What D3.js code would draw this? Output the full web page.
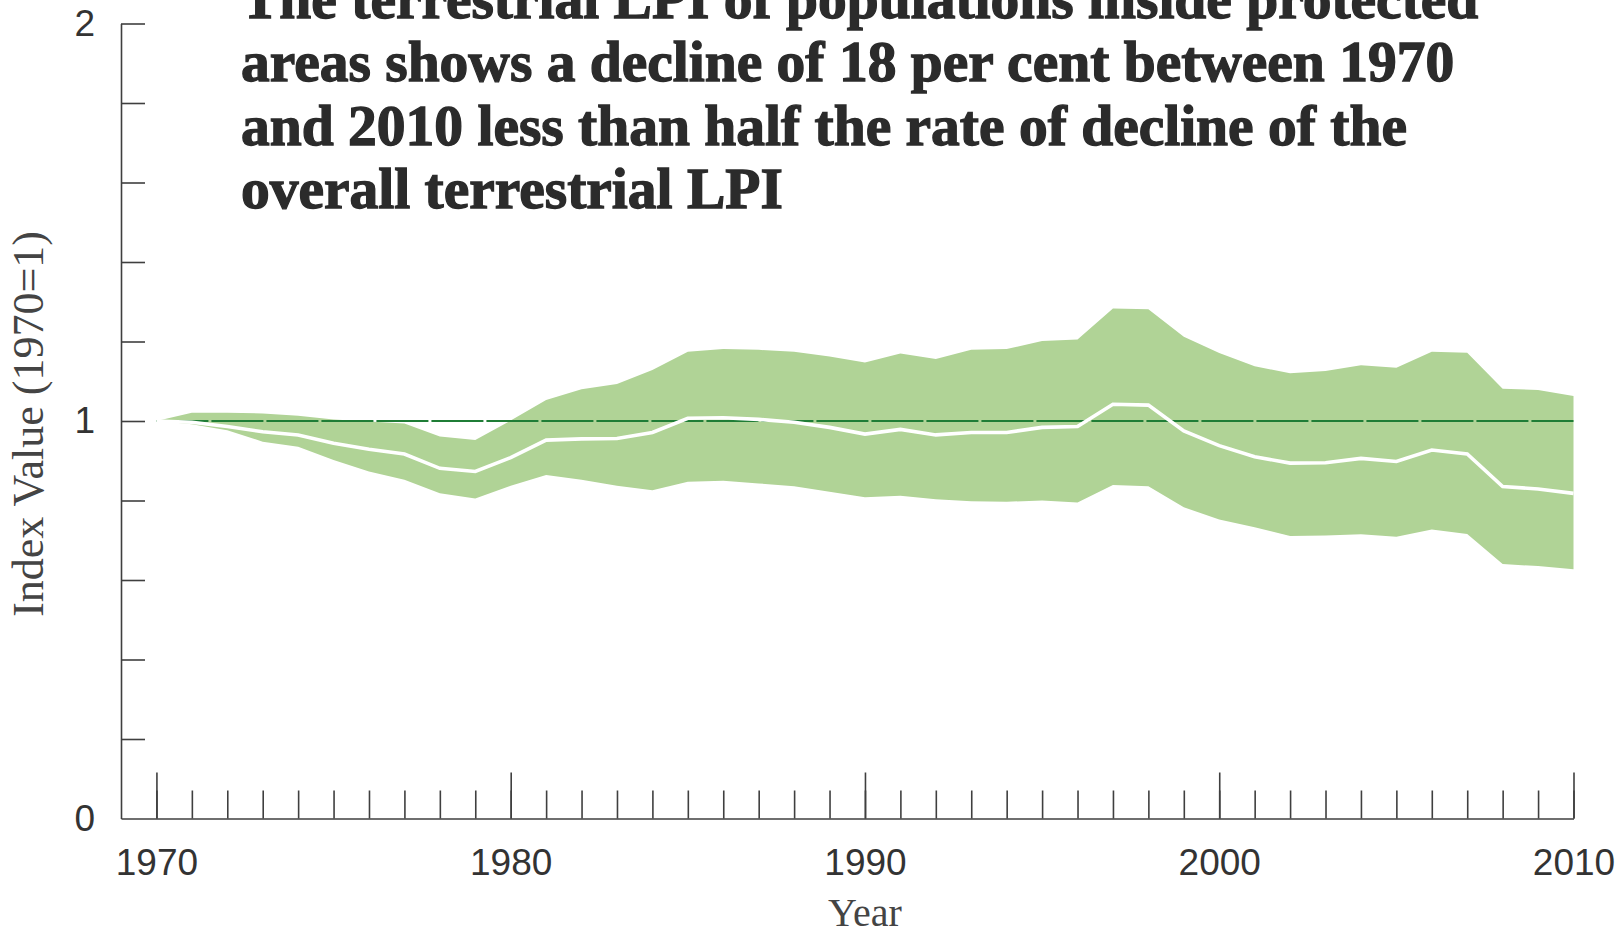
<!DOCTYPE html>
<html>
<head>
<meta charset="utf-8">
<script src="https://cdn.jsdelivr.net/npm/d3@7/dist/d3.min.js"></script>
<style>
  html, body { margin: 0; padding: 0; background: #fff; }
  svg { display: block; }
</style>
</head>
<body>
<svg id="chart" width="1624" height="934"></svg>
<script>
// Living Planet Index, terrestrial populations inside protected areas (1970 = 1)
const years = [1970, 1971, 1972, 1973, 1974, 1975, 1976, 1977, 1978, 1979,
               1980, 1981, 1982, 1983, 1984, 1985, 1986, 1987, 1988, 1989,
               1990, 1991, 1992, 1993, 1994, 1995, 1996, 1997, 1998, 1999,
               2000, 2001, 2002, 2003, 2004, 2005, 2006, 2007, 2008, 2009, 2010];

// index value
const indexValue = [1.000, 0.997, 0.986, 0.973, 0.965, 0.944, 0.929, 0.917, 0.881, 0.873,
                    0.908, 0.952, 0.955, 0.956, 0.971, 1.007, 1.008, 1.004, 0.997, 0.984,
                    0.967, 0.979, 0.965, 0.971, 0.971, 0.984, 0.986, 1.042, 1.040, 0.975,
                    0.938, 0.910, 0.894, 0.895, 0.906, 0.898, 0.927, 0.917, 0.835, 0.829, 0.818];

// upper confidence limit
const upperCI = [1.000, 1.021, 1.021, 1.019, 1.013, 1.004, 0.999, 0.994, 0.961, 0.952,
                 1.001, 1.053, 1.080, 1.093, 1.128, 1.174, 1.181, 1.179, 1.174, 1.162,
                 1.147, 1.170, 1.156, 1.179, 1.181, 1.201, 1.205, 1.283, 1.281, 1.212,
                 1.171, 1.138, 1.120, 1.126, 1.140, 1.134, 1.174, 1.172, 1.081, 1.078, 1.063];

// lower confidence limit
const lowerCI = [1.000, 0.992, 0.977, 0.948, 0.935, 0.902, 0.873, 0.852, 0.818, 0.805,
                 0.837, 0.864, 0.852, 0.837, 0.826, 0.847, 0.850, 0.843, 0.836, 0.822,
                 0.808, 0.812, 0.803, 0.798, 0.797, 0.800, 0.795, 0.839, 0.836, 0.783,
                 0.752, 0.733, 0.711, 0.712, 0.715, 0.709, 0.727, 0.716, 0.640, 0.635, 0.627];

const baselineValue = 1;
const yMinorTicks = [0.2, 0.4, 0.6, 0.8, 1.0, 1.2, 1.4, 1.6, 1.8, 2.0];
const yLabelTicks = [0, 1, 2];
const xLabelTicks = [1970, 1980, 1990, 2000, 2010];

const titleLines = [
  "The terrestrial LPI of populations inside protected",
  "areas shows a decline of 18 per cent between 1970",
  "and 2010 less than half the rate of decline of the",
  "overall terrestrial LPI"
];
const yTitle = "Index Value (1970=1)";
const xTitle = "Year";

const rows = years.map((yr, i) => ({
  year: yr, value: indexValue[i], hi: upperCI[i], lo: lowerCI[i]
}));

const svg = d3.select("#chart");
const axisColor = "#3f3f3f";
const textColor = "#333";

// the value axis stands one year to the left of the first data year
const x = d3.scaleLinear().domain([1969, 2010]).range([121, 1573.5]);
const y = d3.scaleLinear().domain([0, 2]).range([818.5, 23.5]);

// confidence band
svg.append("path")
  .datum(rows)
  .attr("fill", "#b0d396")
  .attr("d", d3.area()
    .x(d => x(d.year))
    .y0(d => y(d.lo))
    .y1(d => y(d.hi)));

// reference line at the 1970 level
svg.append("line")
  .attr("x1", x(years[0])).attr("x2", x(years[years.length - 1]))
  .attr("y1", y(baselineValue)).attr("y2", y(baselineValue))
  .attr("stroke", "#1f7d36")
  .attr("stroke-width", 2.2)
  .attr("stroke-dasharray", "52 3");

// index line
svg.append("path")
  .datum(rows)
  .attr("fill", "none")
  .attr("stroke", "#fff")
  .attr("stroke-width", 3.6)
  .attr("stroke-linejoin", "miter")
  .attr("d", d3.line().x(d => x(d.year)).y(d => y(d.value)));

// y axis: inward ticks every 0.2
const yAxisG = svg.append("g").attr("transform", `translate(${x(1969)},0)`);
yAxisG.call(d3.axisLeft(y).tickValues(yMinorTicks).tickSizeInner(-24).tickSizeOuter(0).tickFormat(""));
yAxisG.append("g").call(d3.axisLeft(y).tickValues(yLabelTicks).tickSize(0).tickPadding(26).tickFormat(d3.format("d")))
  .call(g => g.select(".domain").remove());

// x axis: yearly ticks pointing up, longer ones each decade
const xAxisG = svg.append("g").attr("transform", `translate(0,${y(0)})`);
xAxisG.call(d3.axisBottom(x).tickValues(years).tickSizeInner(-28).tickSizeOuter(0).tickFormat(""));
xAxisG.append("g").call(d3.axisBottom(x).tickValues(xLabelTicks).tickSizeInner(-46).tickSizeOuter(0)
    .tickPadding(30).tickFormat(d3.format("d")))
  .call(g => g.select(".domain").remove());

svg.selectAll(".domain, .tick line")
  .attr("stroke", axisColor)
  .attr("stroke-width", 1.6);
svg.selectAll(".tick text")
  .attr("fill", textColor)
  .attr("font-family", "'Liberation Sans', Arial, sans-serif")
  .attr("font-size", 37);

// axis titles
svg.append("text")
  .attr("transform", `translate(43,${y(1) + 3}) rotate(-90)`)
  .attr("text-anchor", "middle")
  .attr("font-family", "'Liberation Serif', 'Times New Roman', serif")
  .attr("font-size", 44)
  .attr("fill", "#444")
  .text(yTitle);

svg.append("text")
  .attr("x", (x(1970) + x(2010)) / 2)
  .attr("y", 926)
  .attr("text-anchor", "middle")
  .attr("font-family", "'Liberation Serif', 'Times New Roman', serif")
  .attr("font-size", 40)
  .attr("fill", "#444")
  .text(xTitle);

// headline
svg.append("g")
  .selectAll("text")
  .data(titleLines)
  .join("text")
  .attr("x", 241)
  .attr("y", (d, i) => 17.5 + i * 63.6)
  .attr("font-family", "'Liberation Serif', 'Times New Roman', serif")
  .attr("font-weight", "bold")
  .attr("font-size", 57.5)
  .attr("fill", "#2b2b2b")
  .attr("stroke", "#2b2b2b")
  .attr("stroke-width", 1.3)
  .text(d => d);
</script>
</body>
</html>
